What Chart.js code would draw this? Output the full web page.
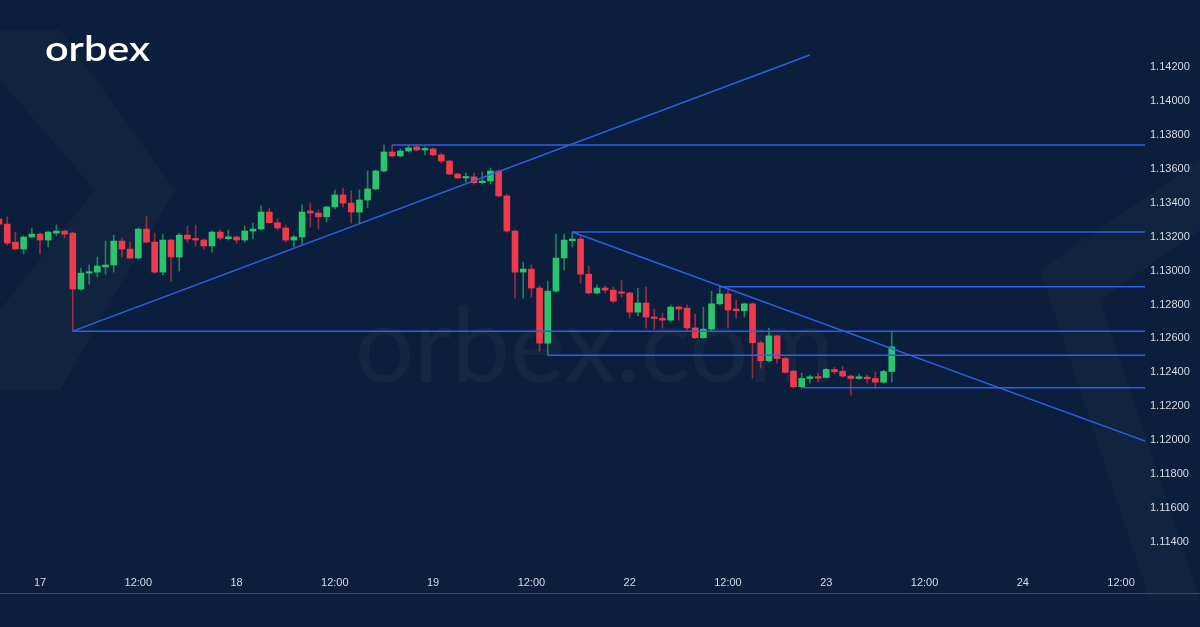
<!DOCTYPE html>
<html>
<head>
<meta charset="utf-8">
<script src="https://cdn.jsdelivr.net/npm/chart.js@4/dist/chart.umd.min.js"></script>
<style>
  html, body { margin: 0; padding: 0; background: #0b1e3b; }
  #wrap { position: relative; width: 1200px; height: 627px; }
  canvas { display: block; }
</style>
</head>
<body>
<div id="wrap"><canvas id="chart" width="1200" height="627"></canvas></div>
<script>
// ---------- Data (hourly candles, hour 0 = 17th 00:00, weekend skipped) ----------
const firstHour = -5;

const opens = [
  1.13304, 1.13274, 1.13168, 1.13127, 1.13198, 1.13215, 1.13180, 1.13221, 1.13233, 1.13221,
  1.12891, 1.12985, 1.12991, 1.13021, 1.13033, 1.13174, 1.13127, 1.13074, 1.13245, 1.13168,
  1.12991, 1.13180, 1.13080, 1.13209, 1.13186, 1.13180, 1.13145, 1.13227, 1.13188, 1.13198,
  1.13180, 1.13233, 1.13245, 1.13345, 1.13282, 1.13251, 1.13180, 1.13198, 1.13351, 1.13339,
  1.13317, 1.13375, 1.13446, 1.13398, 1.13345, 1.13416, 1.13481, 1.13587, 1.13699, 1.13676,
  1.13705, 1.13729, 1.13711, 1.13717, 1.13682, 1.13646, 1.13569, 1.13546, 1.13552, 1.13518,
  1.13528, 1.13587, 1.13440, 1.13233, 1.12991, 1.13009, 1.12897, 1.12572, 1.12879, 1.13074,
  1.13176, 1.13186, 1.12979, 1.12868, 1.12897, 1.12885, 1.12872, 1.12868, 1.12755, 1.12809,
  1.12726, 1.12718, 1.12708, 1.12785, 1.12779, 1.12662, 1.12604, 1.12655, 1.12804, 1.12862,
  1.12773, 1.12763, 1.12804, 1.12574, 1.12468, 1.12615, 1.12482, 1.12407, 1.12315, 1.12364,
  1.12370, 1.12370, 1.12417, 1.12407, 1.12378, 1.12364, 1.12372, 1.12364, 1.12342, 1.12405
];
const highs = [
  1.13322, 1.13316, 1.13227, 1.13204, 1.13251, 1.13221, 1.13233, 1.13269, 1.13239, 1.13227,
  1.13015, 1.13033, 1.13080, 1.13174, 1.13209, 1.13192, 1.13168, 1.13251, 1.13322, 1.13221,
  1.13215, 1.13186, 1.13221, 1.13263, 1.13269, 1.13186, 1.13233, 1.13239, 1.13239, 1.13204,
  1.13263, 1.13280, 1.13381, 1.13369, 1.13304, 1.13269, 1.13209, 1.13387, 1.13398, 1.13357,
  1.13381, 1.13475, 1.13487, 1.13469, 1.13475, 1.13587, 1.13593, 1.13741, 1.13741, 1.13717,
  1.13735, 1.13741, 1.13729, 1.13723, 1.13693, 1.13652, 1.13575, 1.13575, 1.13575, 1.13581,
  1.13605, 1.13593, 1.13451, 1.13239, 1.13050, 1.13033, 1.12909, 1.12938, 1.13215, 1.13215,
  1.13227, 1.13204, 1.13027, 1.12915, 1.12909, 1.12903, 1.12944, 1.12873, 1.12897, 1.12903,
  1.12773, 1.12749, 1.12797, 1.12791, 1.12797, 1.12743, 1.12785, 1.12879, 1.12905, 1.12885,
  1.12826, 1.12809, 1.12809, 1.12584, 1.12661, 1.12619, 1.12490, 1.12413, 1.12395, 1.12384,
  1.12395, 1.12425, 1.12430, 1.12436, 1.12384, 1.12390, 1.12384, 1.12403, 1.12413, 1.12640
];
const lows = [
  1.13263, 1.13151, 1.13121, 1.13098, 1.13192, 1.13098, 1.13139, 1.13204, 1.13192, 1.12643,
  1.12885, 1.12920, 1.12962, 1.12979, 1.12991, 1.13080, 1.13068, 1.13068, 1.13162, 1.12985,
  1.12974, 1.12938, 1.12997, 1.13168, 1.13145, 1.13127, 1.13109, 1.13180, 1.13180, 1.13162,
  1.13168, 1.13186, 1.13239, 1.13280, 1.13239, 1.13168, 1.13139, 1.13151, 1.13257, 1.13245,
  1.13286, 1.13363, 1.13375, 1.13280, 1.13280, 1.13369, 1.13475, 1.13581, 1.13670, 1.13670,
  1.13699, 1.13705, 1.13682, 1.13676, 1.13634, 1.13564, 1.13540, 1.13522, 1.13510, 1.13510,
  1.13510, 1.13434, 1.13227, 1.12838, 1.12838, 1.12844, 1.12525, 1.12501, 1.12873, 1.13003,
  1.13139, 1.12926, 1.12862, 1.12862, 1.12868, 1.12809, 1.12844, 1.12720, 1.12732, 1.12661,
  1.12655, 1.12661, 1.12696, 1.12708, 1.12649, 1.12600, 1.12600, 1.12643, 1.12797, 1.12661,
  1.12720, 1.12726, 1.12366, 1.12425, 1.12460, 1.12454, 1.12395, 1.12307, 1.12307, 1.12336,
  1.12342, 1.12366, 1.12390, 1.12372, 1.12266, 1.12360, 1.12336, 1.12315, 1.12336, 1.12344
];
const closes = [
  1.13274, 1.13162, 1.13127, 1.13198, 1.13215, 1.13180, 1.13227, 1.13233, 1.13215, 1.12891,
  1.12985, 1.12991, 1.13027, 1.13033, 1.13174, 1.13127, 1.13074, 1.13245, 1.13168, 1.12991,
  1.13180, 1.13080, 1.13209, 1.13186, 1.13180, 1.13145, 1.13227, 1.13192, 1.13199, 1.13180,
  1.13233, 1.13245, 1.13345, 1.13282, 1.13251, 1.13180, 1.13198, 1.13345, 1.13339, 1.13317,
  1.13375, 1.13446, 1.13398, 1.13345, 1.13416, 1.13481, 1.13587, 1.13699, 1.13676, 1.13705,
  1.13723, 1.13711, 1.13717, 1.13682, 1.13646, 1.13569, 1.13546, 1.13552, 1.13518, 1.13528,
  1.13587, 1.13440, 1.13233, 1.12991, 1.13009, 1.12897, 1.12572, 1.12879, 1.13074, 1.13180,
  1.13186, 1.12979, 1.12868, 1.12897, 1.12885, 1.12820, 1.12866, 1.12755, 1.12809, 1.12726,
  1.12718, 1.12708, 1.12785, 1.12773, 1.12662, 1.12604, 1.12655, 1.12804, 1.12862, 1.12767,
  1.12763, 1.12804, 1.12574, 1.12468, 1.12615, 1.12482, 1.12400, 1.12315, 1.12364, 1.12374,
  1.12366, 1.12417, 1.12403, 1.12378, 1.12364, 1.12374, 1.12362, 1.12342, 1.12405, 1.12550
];

// horizontal levels: [start hour, price], each runs to the right edge
const levels = [
  [43, 1.13741],
  [65, 1.13227],
  [83, 1.12905],
  [4, 1.12643],
  [62, 1.12501],
  [93, 1.12310]
];
// trend lines: [[hour, price], [hour, price]]
const trendUp = [[4, 1.12643], [94, 1.14271]];
const trendDown = [[65, 1.13227], [135.3, 1.11989]];

const timeTicks = [0, 12, 24, 36, 48, 60, 72, 84, 96, 108, 120, 132];
const timeLabels = ["17", "12:00", "18", "12:00", "19", "12:00", "22", "12:00", "23", "12:00", "24", "12:00"];
const priceTicks = [1.114, 1.116, 1.118, 1.120, 1.122, 1.124, 1.126, 1.128, 1.130, 1.132, 1.134, 1.136, 1.138, 1.140, 1.142];

// ---------- Styling ----------
const BG = "#0b1e3b";
const UP = "#2bc46e";
const DOWN = "#ef3a4c";
const UP_WICK = "rgba(43,196,110,0.6)";
const DOWN_WICK = "rgba(239,58,76,0.6)";
const LINE = "#2d5fe8";
const X_MIN = -4.884, X_MAX = 134.92;

const bodies = [], wicks = [], bodyColors = [], wickColors = [];
opens.forEach((o, i) => {
  const h = firstHour + i;
  const up = closes[i] >= o;
  bodies.push({ x: h, y: [o, closes[i]] });
  wicks.push({ x: h, y: [lows[i], highs[i]] });
  bodyColors.push(up ? UP : DOWN);
  wickColors.push(up ? UP_WICK : DOWN_WICK);
});

function seg(a, b) {
  return { type: "line", data: [{ x: a[0], y: a[1] }, { x: b[0], y: b[1] }],
    borderColor: LINE, borderWidth: 1.5, pointRadius: 0, order: 0, tension: 0 };
}
const lineSets = levels.map((l) => seg(l, [X_MAX, l[1]]));
lineSets.push(seg(trendUp[0], trendUp[1]));
lineSets.push(seg(trendDown[0], trendDown[1]));

// ---------- Decoration plugin ----------
const decor = {
  id: "decor",
  beforeDraw(chart) {
    const ctx = chart.ctx;
    ctx.save();
    ctx.fillStyle = BG;
    ctx.fillRect(0, 0, chart.width, chart.height);
    // faint chevrons
    ctx.fillStyle = "rgba(255,255,255,0.025)";
    ctx.beginPath();
    ctx.moveTo(0, 30); ctx.lineTo(60, 30); ctx.lineTo(175, 190); ctx.lineTo(60, 390); ctx.lineTo(0, 390);
    ctx.lineTo(0, 310); ctx.lineTo(95, 190); ctx.lineTo(0, 80); ctx.closePath(); ctx.fill();
    ctx.beginPath();
    ctx.moveTo(1040, 270); ctx.lineTo(1200, 160); ctx.lineTo(1200, 230); ctx.lineTo(1100, 300);
    ctx.lineTo(1200, 600); ctx.lineTo(1150, 600); ctx.closePath(); ctx.fill();
    // bottom rule
    ctx.strokeStyle = "#34496a";
    ctx.lineWidth = 1;
    ctx.beginPath(); ctx.moveTo(0, 593.5); ctx.lineTo(1200, 593.5); ctx.stroke();
    ctx.restore();
  },
  beforeDatasetsDraw(chart) {
    const ctx = chart.ctx;
    ctx.save();
    ctx.fillStyle = "rgba(255,255,255,0.04)";
    ctx.font = "100px Lato";
    const w = ctx.measureText("orbex.com").width;
    ctx.font = Math.round(100 * 480 / w) + "px Lato";
    ctx.textBaseline = "alphabetic";
    ctx.fillText("orbex.com", 355, 382);
    ctx.restore();
  },
  afterDraw(chart) {
    const ctx = chart.ctx;
    ctx.save();
    ctx.fillStyle = "#ffffff";
    ctx.font = "600 34px Lato";
    const w = ctx.measureText("orbex").width;
    ctx.translate(45, 61);
    ctx.scale(105 / w, 1);
    ctx.textBaseline = "alphabetic";
    ctx.fillText("orbex", 0, 0);
    ctx.restore();
  }
};

// ---------- Chart ----------
new Chart(document.getElementById("chart"), {
  type: "bar",
  data: {
    datasets: [
      ...lineSets,
      { type: "bar", data: bodies, backgroundColor: bodyColors, barThickness: 6,
        minBarLength: 1.5, grouped: false, order: 1, borderWidth: 0 },
      { type: "bar", data: wicks, backgroundColor: wickColors, barThickness: 1,
        grouped: false, order: 2, borderWidth: 0 }
    ]
  },
  options: {
    responsive: false,
    animation: false,
    layout: { padding: 0 },
    plugins: { legend: { display: false }, tooltip: { enabled: false } },
    scales: {
      x: {
        type: "linear", min: X_MIN, max: X_MAX, offset: false,
        grid: { display: false, drawTicks: false }, border: { display: false },
        afterBuildTicks: (s) => { s.ticks = timeTicks.map((v) => ({ value: v })); },
        afterFit: (s) => { s.height = 57; s.paddingLeft = 0; s.paddingRight = 0; },
        ticks: {
          padding: 6, color: "#d6dbe4", maxRotation: 0, autoSkip: false,
          font: { family: "Liberation Sans", size: 11 },
          callback: (v) => timeLabels[timeTicks.indexOf(v)]
        }
      },
      y: {
        position: "right", min: 1.11235, max: 1.14595,
        grid: { display: false, drawTicks: false }, border: { display: false },
        afterBuildTicks: (s) => { s.ticks = priceTicks.map((v) => ({ value: v })); },
        afterFit: (s) => { s.width = 55; s.paddingTop = 0; s.paddingBottom = 0; },
        ticks: {
          padding: 5, color: "#d6dbe4",
          font: { family: "Liberation Sans", size: 11 },
          callback: (v) => v.toFixed(5)
        }
      }
    }
  },
  plugins: [decor]
});
</script>
</body>
</html>
